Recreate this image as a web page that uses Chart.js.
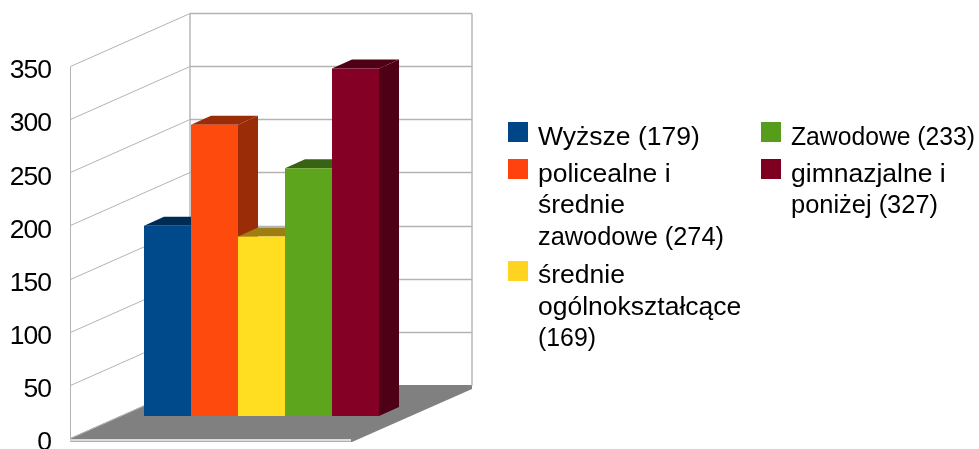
<!DOCTYPE html>
<html><head><meta charset="utf-8">
<style>html,body{margin:0;padding:0;background:#fff}canvas{display:block}</style>
<script src="https://cdn.jsdelivr.net/npm/chart.js@4"></script>
</head><body><canvas id="c" width="979" height="449"></canvas>
<script>
const categories = [""];
const seriesNames = ["Wyższe (179)","policealne i średnie zawodowe (274)","średnie ogólnokształcące (169)","Zawodowe (233)","gimnazjalne i poniżej (327)"];
const seriesValues = [179,274,169,233,327];
const seriesColors = ["#004a8c","#ff4a0e","#ffdd20","#5ea51e","#840025"];
const seriesShades = ["#002c54","#9a2c08","#9c7e12","#386312","#4e0016"];
const legendColors = ["#004586","#ff420e","#ffd320","#579d1c","#7e0021"];
const legendLines = [["Wyższe (179)"],["policealne i","średnie","zawodowe (274)"],["średnie","ogólnokształcące","(169)"],["Zawodowe (233)"],["gimnazjalne i","poniżej (327)"]];
const yTicksMax = 350, yTicksStep = 50;

const FONT = '"Liberation Sans", Arial, sans-serif';
const wall = {dx:119.5, dy:-53};      // depth of the walls
const barShift = {dx:50, dy:-22};     // bars stand in the middle of the floor
const barDepth = {dx:20, dy:-9};      // depth of one bar
const legendLayout = [
  {x:508,box:122,base:[145],fit:[162]},
  {x:508,box:159,base:[181.5,213,244.5],fit:[undefined,undefined,186]},
  {x:508,box:261,base:[282.5,314.5,345.5],fit:[undefined,undefined,58]},
  {x:761,box:122,base:[145],fit:[184]},
  {x:761,box:159,base:[181.5,213],fit:[undefined,147]}
];
function poly(ctx,pts,fill){ctx.beginPath();pts.forEach((p,i)=>i?ctx.lineTo(p[0],p[1]):ctx.moveTo(p[0],p[1]));ctx.closePath();ctx.fillStyle=fill;ctx.fill();}

const scene3d = {
  id:'scene3d',
  beforeDraw(chart){ chart.ctx.letterSpacing='-1px'; },
  beforeDatasetsDraw(chart){
    const ctx=chart.ctx, a=chart.chartArea, y=chart.scales.y;
    const L=70.5, R=a.right, B=y.getPixelForValue(0), T=y.getPixelForValue(yTicksMax);
    ctx.save();
    // floor
    poly(ctx,[[L,B],[L+wall.dx,B+wall.dy],[R+wall.dx+.5,B+wall.dy],[R+wall.dx+.5,B+wall.dy+4],[R,B+4],[L,B+4]],'#808080');
    ctx.fillStyle='#dcdcdc';ctx.fillRect(L,B+1,R-L-1,3);
    ctx.fillStyle='#b0b0b0';ctx.fillRect(L,B+3,R-L-1,1);
    // side wall
    ctx.strokeStyle='#b3b3b3';ctx.lineWidth=1;
    ctx.beginPath();
    for(let v=0;v<=yTicksMax;v+=yTicksStep){
      const p=Math.round(y.getPixelForValue(v))+.5;
      ctx.moveTo(L,p);ctx.lineTo(L+wall.dx,p+wall.dy);
    }
    ctx.moveTo(L,T+.5);ctx.lineTo(L,B+.5);
    ctx.stroke();
    // back wall
    ctx.lineWidth=1.4;
    ctx.beginPath();
    for(let v=yTicksStep;v<=yTicksMax;v+=yTicksStep){
      const p=Math.round(y.getPixelForValue(v))+.5;
      ctx.moveTo(L+wall.dx,p+wall.dy);ctx.lineTo(R+wall.dx+.5,p+wall.dy);
    }
    ctx.moveTo(L+wall.dx,T+wall.dy+.5);ctx.lineTo(L+wall.dx,B+wall.dy+.5);
    ctx.moveTo(R+wall.dx+.5,T+wall.dy+.5);ctx.lineTo(R+wall.dx+.5,B+wall.dy+.5);
    ctx.stroke();
    ctx.restore();
    // bars: depth faces first, front faces (the library's bars) afterwards
    ctx.save();
    ctx.translate(barShift.dx,barShift.dy);
    chart.data.datasets.forEach((d,i)=>{
      const el=chart.getDatasetMeta(i).data[0];
      const l=el.x-el.width/2, r=el.x+el.width/2, t=el.y, b=el.base;
      const c=seriesShades[i], dx=barDepth.dx, dy=barDepth.dy;
      poly(ctx,[[l,t],[l+dx,t+dy],[r+dx,t+dy],[r,t]],c);
      poly(ctx,[[r,t],[r+dx,t+dy],[r+dx,b+dy],[r,b]],c);
    });
  },
  afterDatasetsDraw(chart){
    const ctx=chart.ctx;
    ctx.restore();
    ctx.save();
    ctx.letterSpacing='0px';
    ctx.font='26.5px '+FONT;ctx.textBaseline='alphabetic';ctx.textAlign='left';
    legendLines.forEach((lines,i)=>{
      const o=legendLayout[i];
      ctx.fillStyle=legendColors[i];ctx.fillRect(o.x,o.box,20,20);
      ctx.fillStyle='#000';
      lines.forEach((t,j)=>{
        if(o.fit[j]) ctx.fillText(t,o.x+30,o.base[j],o.fit[j]);
        else ctx.fillText(t,o.x+30,o.base[j]);
      });
    });
    ctx.restore();
  }
};

new Chart(document.getElementById('c'),{
  type:'bar',
  data:{labels:categories,datasets:seriesNames.map((n,i)=>({label:n,data:[seriesValues[i]],backgroundColor:seriesColors[i],borderWidth:0,clip:false}))},
  options:{
    responsive:false,animation:false,
    layout:{padding:{left:0,right:627,top:66,bottom:11}},
    plugins:{legend:{display:false},tooltip:{enabled:false},title:{display:false}},
    datasets:{bar:{categoryPercentage:235/281,barPercentage:1}},
    scales:{
      x:{display:false,grid:{display:false}},
      y:{min:0,max:yTicksMax,
        afterFit(s){s.width=71;s.paddingTop=0;s.paddingBottom=0;},
        border:{display:false},
        grid:{display:false,drawTicks:false},
        ticks:{stepSize:yTicksStep,padding:20,labelOffset:5,color:'#000',font:{family:FONT,size:26.5}}
      }
    }
  },
  plugins:[scene3d]
});
</script></body></html>
